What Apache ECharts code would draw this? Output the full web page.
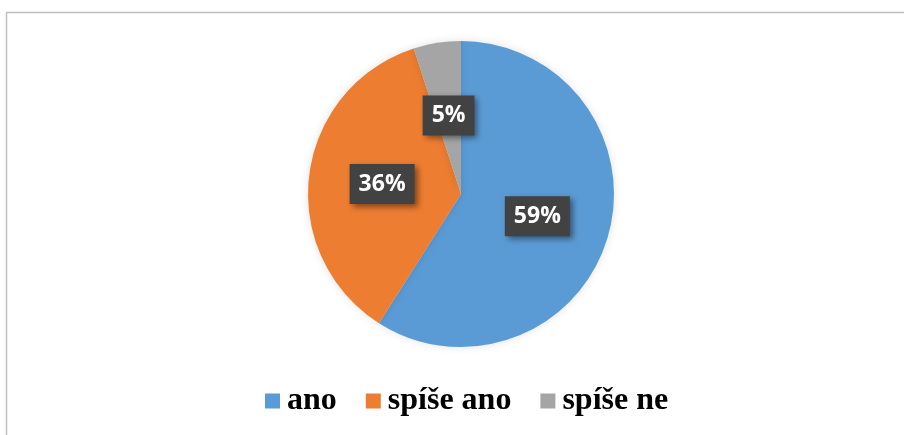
<!DOCTYPE html>
<html>
<head>
<meta charset="utf-8">
<script src="https://cdn.jsdelivr.net/npm/echarts@6/dist/echarts.min.js"></script>
<style>html,body{margin:0;padding:0;background:#fff}#c{width:904px;height:435px}</style>
</head>
<body>
<div id="c"></div>
<script>
var categories = ['ano', 'spíše ano', 'spíše ne'];
var values = [59, 36, 5];
var colors = ['#5B9BD5', '#ED7D31', '#A5A5A5'];

var chart = echarts.init(document.getElementById('c'), null, {renderer: 'canvas'});
var data = categories.map(function (name, i) {
  return {name: name, value: values[i], itemStyle: {color: colors[i]}};
});
chart.setOption({
  animation: false,
  backgroundColor: '#fff',
  graphic: [{
    type: 'rect',
    shape: {x: 6.5, y: 12.5, width: 1000, height: 1000},
    style: {fill: 'none', stroke: '#bfbfbf', lineWidth: 1.5},
    silent: true
  }],
  legend: {
    data: categories,
    left: 260,
    top: 380,
    itemWidth: 15,
    itemHeight: 15,
    itemGap: 29,
    icon: 'rect',
    textStyle: {
      fontFamily: 'Liberation Serif',
      fontWeight: 'bold',
      fontSize: 32,
      color: '#000',
      padding: [0, 0, 0, 2]
    }
  },
  series: [{
    type: 'pie',
    center: [461, 194],
    radius: [0, 153],
    startAngle: 90,
    clockwise: true,
    avoidLabelOverlap: false,
    data: data,
    itemStyle: {
      shadowBlur: 8,
      shadowColor: 'rgba(0,0,0,0.12)'
    },
    label: {
      show: true,
      position: 'inside',
      formatter: '{d}%',
      fontFamily: 'Open Sans',
      fontWeight: 'bold',
      fontSize: 23,
      color: '#fff',
      backgroundColor: '#424242',
      padding: [9, 9, 8, 9],
      shadowColor: 'rgba(0,0,0,0.45)',
      shadowBlur: 6,
      shadowOffsetX: 3,
      shadowOffsetY: 3
    },
    labelLine: {show: false},
    emphasis: {disabled: true}
  }]
});
</script>
</body>
</html>
